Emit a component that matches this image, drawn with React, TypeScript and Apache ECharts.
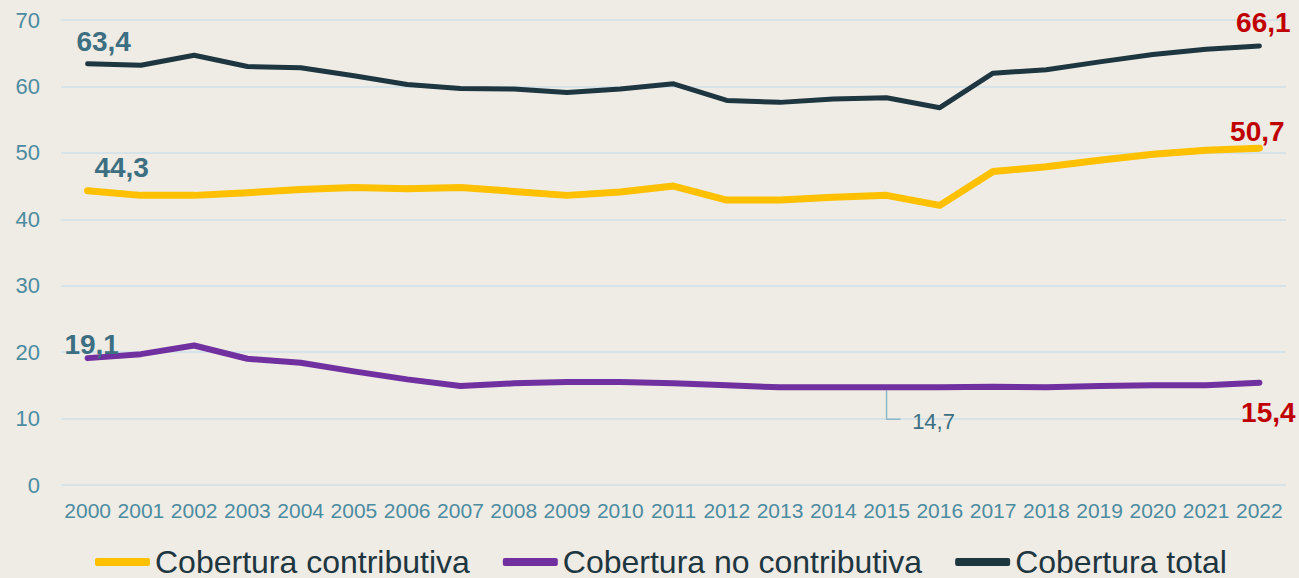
import React, { useEffect, useRef } from "react";
import * as echarts from "echarts";

const years = ["2000","2001","2002","2003","2004","2005","2006","2007","2008","2009","2010","2011","2012","2013","2014","2015","2016","2017","2018","2019","2020","2021","2022"];
const contributiva = [44.3,43.6,43.6,44.0,44.5,44.8,44.6,44.8,44.2,43.6,44.1,45.0,42.9,42.9,43.3,43.6,42.1,47.2,47.9,48.9,49.8,50.4,50.7];
const noContributiva = [19.1,19.7,21.0,19.0,18.4,17.1,15.9,14.9,15.3,15.5,15.5,15.3,15.0,14.7,14.7,14.7,14.7,14.8,14.7,14.9,15.0,15.0,15.4];
const total = [63.4,63.2,64.7,63.0,62.8,61.6,60.3,59.7,59.6,59.1,59.6,60.4,57.9,57.6,58.1,58.3,56.8,62.0,62.5,63.7,64.8,65.6,66.1];
const seriesNames = ["Cobertura contributiva", "Cobertura no contributiva", "Cobertura total"];

const FONT = "'Liberation Sans', Arial, sans-serif";
const TEAL = "#4b8ca1";
const TEAL_DARK = "#3d6f82";
const RED = "#c00000";

const fmt = (v: number) => v.toFixed(1).replace(".", ",");

function withLabels(values: number[], labels: Record<number, { color: string; offset: number[]; bold?: boolean; size?: number }>) {
  return values.map((v, i) => {
    const l = labels[i];
    if (!l) return v;
    return {
      value: v,
      label: {
        show: true,
        position: "inside",
        align: "center",
        verticalAlign: "middle",
        offset: l.offset,
        formatter: () => fmt(v),
        color: l.color,
        fontSize: l.size ?? 28,
        fontWeight: l.bold === false ? "normal" : "bold",
        fontFamily: FONT,
      },
    };
  });
}

export default function App() {
  const ref = useRef<HTMLDivElement>(null);
  useEffect(() => {
    if (!ref.current) return;
    document.body.style.margin = "0";
    const chart = echarts.init(ref.current, null, { renderer: "svg" });
    const last = years.length - 1;
    const lineBase = (color: string, width: number) => ({
      type: "line",
      symbol: "circle",
      symbolSize: 1,
      showSymbol: true,
      itemStyle: { color },
      lineStyle: { color, width, cap: "round", join: "round" },
      emphasis: { disabled: true },
      z: 3,
    });
    chart.setOption({
      animation: false,
      backgroundColor: "#efebe5",
      textStyle: { fontFamily: FONT },
      grid: { left: 61, right: 13, top: 20, bottom: 93, containLabel: false },
      xAxis: {
        type: "category",
        data: years,
        boundaryGap: true,
        axisLine: { show: false },
        axisTick: { show: false },
        axisLabel: { color: TEAL, fontSize: 21, margin: 15, fontFamily: FONT, interval: 0 },
      },
      yAxis: {
        type: "value",
        min: 0,
        max: 70,
        interval: 10,
        axisLine: { show: false },
        axisTick: { show: false },
        axisLabel: { color: TEAL, fontSize: 22, margin: 21, fontFamily: FONT },
        splitLine: { lineStyle: { color: "#d6e4ea", width: 2 } },
      },
      legend: {
        data: seriesNames,
        left: 95,
        top: 546,
        padding: 0,
        icon: "roundRect",
        itemWidth: 55,
        itemHeight: 8,
        itemGap: 33,
        textStyle: { color: "#1e363f", fontSize: 32, lineHeight: 30, fontFamily: FONT },
      },
      series: [
        {
          ...lineBase("#ffc000", 7),
          name: seriesNames[0],
          data: withLabels(contributiva, {
            0: { color: TEAL_DARK, offset: [34, -23] },
            [last]: { color: RED, offset: [-2, -17] },
          }),
        },
        {
          ...lineBase("#7030a0", 6),
          name: seriesNames[1],
          data: withLabels(noContributiva, {
            0: { color: TEAL_DARK, offset: [4, -14] },
            15: { color: TEAL_DARK, offset: [47, 34], bold: false, size: 22 },
            [last]: { color: RED, offset: [9, 30] },
          }),
        },
        {
          ...lineBase("#1d3640", 5),
          name: seriesNames[2],
          data: withLabels(total, {
            0: { color: TEAL_DARK, offset: [16, -22] },
            [last]: { color: RED, offset: [4, -23] },
          }),
        },
      ],
    });
    // leader line for the 2015 no-contributiva label, positioned through the scales
    const p = chart.convertToPixel({ seriesIndex: 1 }, [15, noContributiva[15]]) as number[];
    if (p) {
      chart.setOption({
        graphic: [
          {
            type: "polyline",
            shape: { points: [[p[0], p[1] + 3], [p[0], p[1] + 32], [p[0] + 14, p[1] + 32]] },
            style: { stroke: "#8dbac7", lineWidth: 1.5, fill: "none" },
            silent: true,
            z: 2,
          },
        ],
      });
    }
    return () => chart.dispose();
  }, []);
  return <div ref={ref} style={{ position: "absolute", left: 0, top: 0, width: 1299, height: 578 }} />;
}
